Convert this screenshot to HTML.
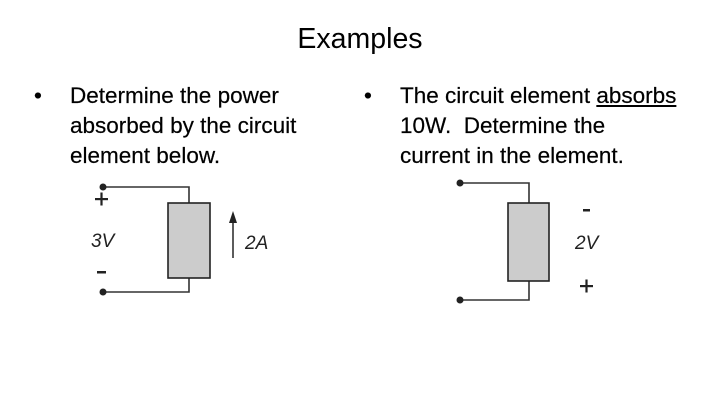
<!DOCTYPE html><html><head><style>
body{margin:0;width:720px;height:405px;background:#fff;position:relative;font-family:"Liberation Sans",sans-serif;overflow:hidden}
.t{position:absolute;left:0;width:720px;text-align:center;top:23px;font-size:28.5px;color:#000}
.b{position:absolute;font-size:22.5px;line-height:30px;color:#000;-webkit-text-stroke:0.2px #000}
.b span.d{position:absolute;left:-36px}
</style></head><body>
<div class="t">Examples</div>
<div class="b" style="left:70px;top:81px"><span class="d">•</span>Determine the power<br>absorbed by the circuit<br>element below.</div>
<div class="b" style="left:400px;top:81px"><span class="d">•</span>The circuit element <u>absorbs</u><br>10W.&nbsp; Determine the<br>current in the element.</div>
<svg width="720" height="405" style="position:absolute;left:0;top:0" font-family="Liberation Sans, sans-serif">
<g stroke="#333" stroke-width="1.6" fill="none">
<polyline points="103,187 189,187 189,203"/><polyline points="103,292 189,292 189,278"/>
<polyline points="460,183 529,183 529,203"/><polyline points="460,300 529,300 529,281"/>
<line x1="233" y1="258" x2="233" y2="220"/>
</g>
<rect x="168" y="203" width="42" height="75" fill="#ccc" stroke="#222" stroke-width="1.6"/>
<rect x="508" y="203" width="41" height="78" fill="#ccc" stroke="#222" stroke-width="1.6"/>
<polygon points="233,211 229,223 237,223" fill="#222"/>
<g fill="#222"><circle cx="103" cy="187" r="3.5"/><circle cx="103" cy="292" r="3.5"/><circle cx="460" cy="183" r="3.5"/><circle cx="460" cy="300" r="3.5"/></g>
<g font-size="19" fill="#222" font-style="italic">
<text x="91" y="247">3V</text><text x="245" y="249">2A</text><text x="575" y="249">2V</text></g>
<g fill="#222">
<rect x="95" y="198" width="13" height="2.2"/><rect x="100.4" y="192.5" width="2.2" height="13"/>
<rect x="97" y="271" width="9" height="2.5"/>
<rect x="583" y="209" width="7" height="2.5"/>
<rect x="580" y="285" width="13" height="2.2"/><rect x="585.4" y="279.5" width="2.2" height="13"/>
</g>
</svg>
</body></html>
